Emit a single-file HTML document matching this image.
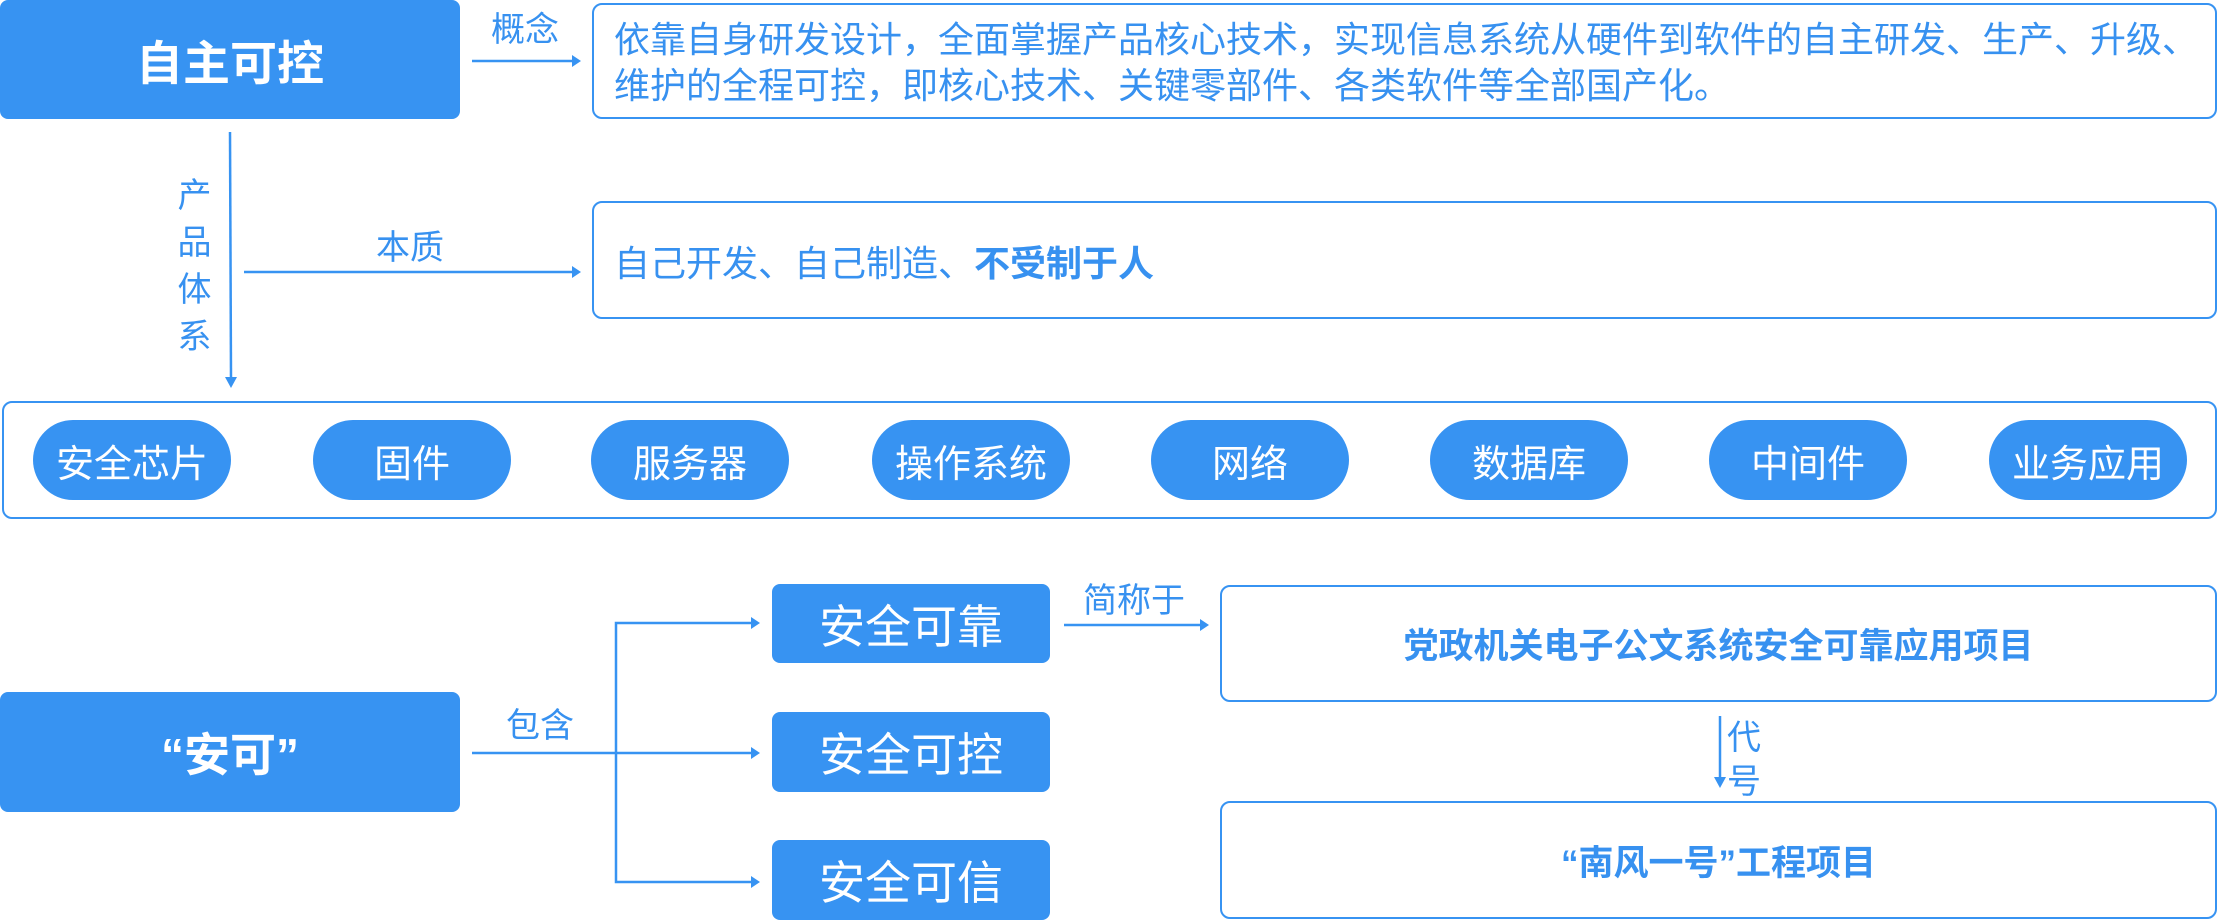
<!DOCTYPE html>
<html><head><meta charset="utf-8"><style>
*{margin:0;padding:0;box-sizing:border-box}
body{width:2220px;height:920px;position:relative;background:#fff;overflow:hidden;font-family:"Liberation Sans","Noto Sans CJK SC",sans-serif;color:#3791f0}
.a{position:absolute}
.f{position:absolute;background:#3793f2;color:#fff;border-radius:8px;display:flex;align-items:center;justify-content:center}
.o{position:absolute;border:2.5px solid #3793f2;border-radius:10px;background:#fff}
.p{position:absolute;background:#3793f2;color:#fff;border-radius:40px;display:flex;align-items:center;justify-content:center;font-size:38px;width:198px;height:80px;top:420px}
.l{position:absolute;font-size:34px;color:#3791f0;line-height:1}
.c{display:flex;align-items:center;justify-content:center}
</style></head><body>
<svg class="a" style="left:0;top:0" width="2220" height="920">
<g stroke="#3793f2" stroke-width="2.5" fill="none">
<line x1="472" y1="61" x2="572" y2="61"/>
<line x1="230" y1="132" x2="231" y2="378"/>
<line x1="244" y1="272" x2="572" y2="272"/>
<line x1="472" y1="753" x2="752" y2="753"/>
<polyline points="752,623 616,623 616,882 752,882"/>
<line x1="1064" y1="625" x2="1200" y2="625"/>
<line x1="1720" y1="716" x2="1720" y2="778"/>
</g>
<g fill="#3793f2">
<polygon points="572,55 581,61 572,67"/>
<polygon points="572,266 581,272 572,278"/>
<polygon points="225,377 237,377 231,388"/>
<polygon points="751,617 760,623 751,629"/>
<polygon points="751,747 760,753 751,759"/>
<polygon points="751,876 760,882 751,888"/>
<polygon points="1200,619 1209,625 1200,631"/>
<polygon points="1714,777 1726,777 1720,788"/>
</g>
</svg>
<div class="f" style="left:0;top:0;width:460px;height:119px;font-size:47px;font-weight:bold">自主可控</div>
<div class="o" style="left:592px;top:3px;width:1625px;height:116px"></div>
<div class="a" style="left:614px;top:17px;font-size:36px;line-height:46px;white-space:nowrap">依靠自身研发设计，全面掌握产品核心技术，实现信息系统从硬件到软件的自主研发、生产、升级、<br>维护的全程可控，即核心技术、关键零部件、各类软件等全部国产化。</div>
<div class="l" style="left:491px;top:13px">概念</div>
<div class="l" style="left:177px;top:173px;line-height:47px;width:35px;text-align:center">产<br>品<br>体<br>系</div>
<div class="l" style="left:376px;top:231px">本质</div>
<div class="o" style="left:592px;top:201px;width:1625px;height:118px"></div>
<div class="a" style="left:614px;top:244px;font-size:36px;line-height:40px;white-space:nowrap">自己开发、自己制造、<b>不受制于人</b></div>
<div class="o" style="left:2px;top:401px;width:2215px;height:118px"></div>
<div class="p" style="left:33px">安全芯片</div>
<div class="p" style="left:313px">固件</div>
<div class="p" style="left:591px">服务器</div>
<div class="p" style="left:872px">操作系统</div>
<div class="p" style="left:1151px">网络</div>
<div class="p" style="left:1430px">数据库</div>
<div class="p" style="left:1709px">中间件</div>
<div class="p" style="left:1989px">业务应用</div>
<div class="f" style="left:0;top:692px;width:460px;height:120px;font-size:46px;font-weight:bold">“安可”</div>
<div class="l" style="left:506px;top:709px">包含</div>
<div class="f" style="left:772px;top:584px;width:278px;height:79px;font-size:46px">安全可靠</div>
<div class="f" style="left:772px;top:712px;width:278px;height:80px;font-size:46px">安全可控</div>
<div class="f" style="left:772px;top:840px;width:278px;height:80px;font-size:46px">安全可信</div>
<div class="l" style="left:1083px;top:584px">简称于</div>
<div class="o c" style="left:1220px;top:585px;width:997px;height:117px;font-size:35px;font-weight:bold">党政机关电子公文系统安全可靠应用项目</div>
<div class="l" style="left:1727px;top:716px;line-height:44px">代<br>号</div>
<div class="o c" style="left:1220px;top:801px;width:997px;height:118px;font-size:35px;font-weight:bold">“南风一号”工程项目</div>
</body></html>
